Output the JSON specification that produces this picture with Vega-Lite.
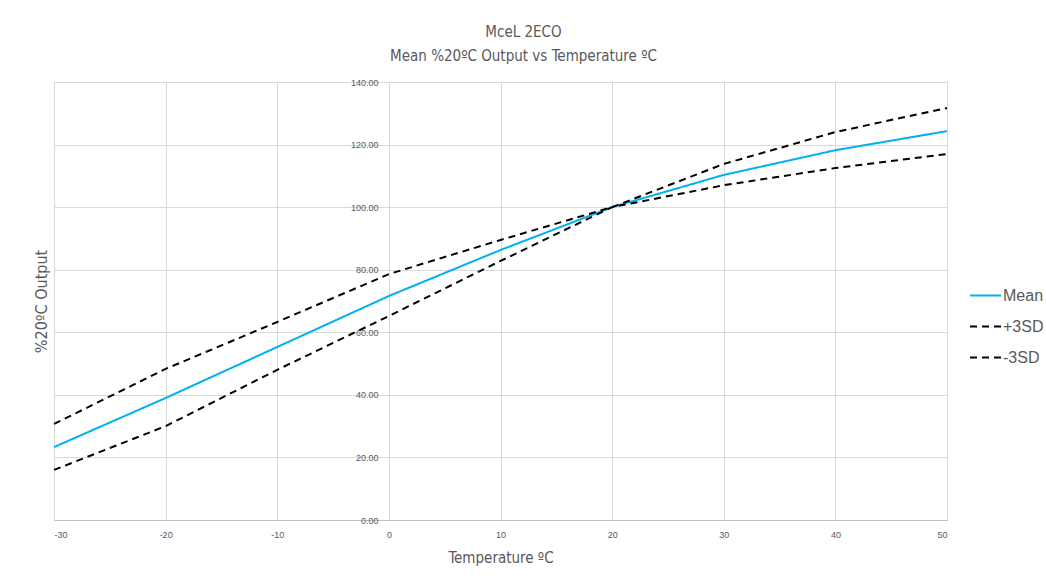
{
  "$schema": "https://vega.github.io/schema/vega-lite/v6.json",
  "width": 893,
  "height": 438,
  "autosize": {"type": "none"},
  "padding": {"left": 54, "top": 82, "right": 99, "bottom": 61},
  "background": "white",
  "title": {
    "text": "McеL 2ECO",
    "subtitle": "Mean %20ºC Output vs Temperature ºC",
    "anchor": "middle",
    "dx": 23,
    "offset": 14,
    "font": "DejaVu Sans Condensed",
    "fontSize": 15,
    "fontWeight": "normal",
    "color": "#595959",
    "subtitleFont": "DejaVu Sans Condensed",
    "subtitleFontSize": 15,
    "subtitleColor": "#595959",
    "subtitlePadding": 9
  },
  "data": {
    "values": [
      {"t": -30, "v": 23.3, "series": "Mean"},
      {"t": -20, "v": 39.0, "series": "Mean"},
      {"t": -10, "v": 55.3, "series": "Mean"},
      {"t": 0, "v": 71.6, "series": "Mean"},
      {"t": 10, "v": 86.3, "series": "Mean"},
      {"t": 20, "v": 100.0, "series": "Mean"},
      {"t": 30, "v": 110.3, "series": "Mean"},
      {"t": 40, "v": 118.2, "series": "Mean"},
      {"t": 50, "v": 124.3, "series": "Mean"},
      {"t": -30, "v": 30.7, "series": "+3SD"},
      {"t": -20, "v": 48.3, "series": "+3SD"},
      {"t": -10, "v": 63.3, "series": "+3SD"},
      {"t": 0, "v": 78.6, "series": "+3SD"},
      {"t": 10, "v": 89.5, "series": "+3SD"},
      {"t": 20, "v": 100.0, "series": "+3SD"},
      {"t": 30, "v": 113.8, "series": "+3SD"},
      {"t": 40, "v": 124.0, "series": "+3SD"},
      {"t": 50, "v": 131.7, "series": "+3SD"},
      {"t": -30, "v": 16.0, "series": "-3SD"},
      {"t": -20, "v": 30.0, "series": "-3SD"},
      {"t": -10, "v": 48.0, "series": "-3SD"},
      {"t": 0, "v": 65.2, "series": "-3SD"},
      {"t": 10, "v": 82.8, "series": "-3SD"},
      {"t": 20, "v": 100.0, "series": "-3SD"},
      {"t": 30, "v": 107.0, "series": "-3SD"},
      {"t": 40, "v": 112.5, "series": "-3SD"},
      {"t": 50, "v": 117.0, "series": "-3SD"}
    ]
  },
  "mark": {"type": "line", "strokeWidth": 2},
  "encoding": {
    "x": {
      "field": "t",
      "type": "quantitative",
      "scale": {"domain": [-30, 50], "nice": false, "zero": false},
      "axis": {
        "values": [-30, -20, -10, 0, 10, 20, 30, 40, 50],
        "labelExpr": "toString(datum.value)",
        "title": "Temperature ºC",
        "titleFont": "DejaVu Sans Condensed",
        "titleFontSize": 15,
        "titleFontWeight": "normal",
        "titleColor": "#595959",
        "titlePadding": 11,
        "labelFont": "Liberation Sans",
        "labelFontSize": 9,
        "labelColor": "#595959",
        "labelPadding": 10,
        "ticks": false,
        "domainColor": "#bfbfbf",
        "domainWidth": 1,
        "gridColor": "#d9d9d9",
        "gridWidth": 1
      }
    },
    "y": {
      "field": "v",
      "type": "quantitative",
      "scale": {"domain": [0, 140], "nice": false},
      "axis": {
        "values": [0, 20, 40, 60, 80, 100, 120, 140],
        "format": ".2f",
        "offset": -335,
        "domain": false,
        "ticks": false,
        "labelFont": "Liberation Sans",
        "labelFontSize": 9,
        "labelColor": "#595959",
        "labelPadding": 11,
        "gridColor": "#d9d9d9",
        "gridWidth": 1,
        "title": "%20ºC Output",
        "titleFont": "DejaVu Sans Condensed",
        "titleFontSize": 16,
        "titleFontWeight": "normal",
        "titleColor": "#595959",
        "titleX": -340,
        "titleY": 219
      }
    },
    "color": {
      "field": "series",
      "type": "nominal",
      "scale": {"domain": ["Mean", "+3SD", "-3SD"], "range": ["#00b0f0", "#000000", "#000000"]},
      "legend": {
        "title": null,
        "orient": "none",
        "legendX": 915,
        "legendY": 197,
        "symbolType": "stroke",
        "symbolSize": 961,
        "symbolStrokeWidth": 2,
        "labelFont": "Liberation Sans",
        "labelFontSize": 16,
        "labelColor": "#595959",
        "labelOffset": 1,
        "rowPadding": 6
      }
    },
    "strokeDash": {
      "field": "series",
      "type": "nominal",
      "scale": {"domain": ["Mean", "+3SD", "-3SD"], "range": [[1, 0], [7, 5], [7, 5]]},
      "legend": {
        "title": null,
        "orient": "none",
        "legendX": 915,
        "legendY": 197,
        "symbolType": "stroke",
        "symbolSize": 961,
        "symbolStrokeWidth": 2,
        "labelFont": "Liberation Sans",
        "labelFontSize": 16,
        "labelColor": "#595959",
        "labelOffset": 1,
        "rowPadding": 6
      }
    }
  },
  "config": {"view": {"stroke": null}}
}
